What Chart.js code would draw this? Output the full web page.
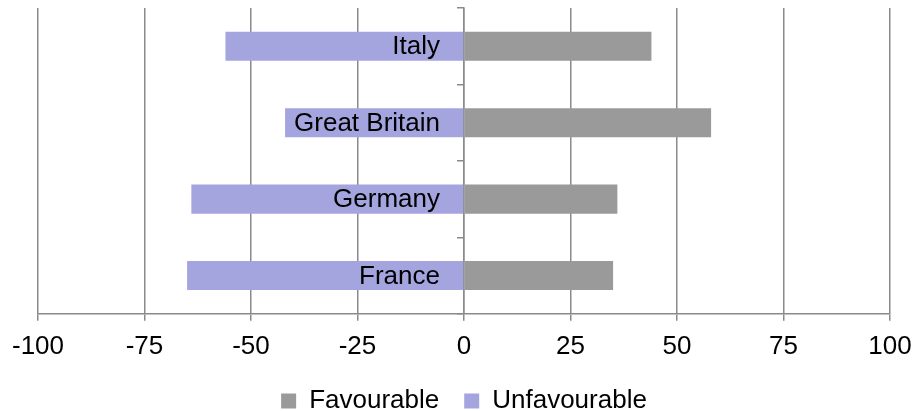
<!DOCTYPE html>
<html>
<head>
<meta charset="utf-8">
<script src="https://cdn.jsdelivr.net/npm/chart.js@4.4.1/dist/chart.umd.min.js"></script>
<style>
  html, body { margin: 0; padding: 0; background: #fff; }
  #wrap { width: 917px; height: 411px; }
</style>
</head>
<body>
<div id="wrap"><canvas id="chart-opinion"></canvas></div>
<script>
const countries = ['Italy', 'Great Britain', 'Germany', 'France'];
const favourable = [44, 58, 36, 35];
const unfavourable = [-56, -42, -64, -65];
const xTicks = [-100, -75, -50, -25, 0, 25, 50, 75, 100];

const gridGrey = '#8a8a8a';
const fontFamily = "'Liberation Sans', Arial, sans-serif";

// category names sit just left of the zero line, on top of the bars
const countryLabels = {
    id: 'countryLabels',
    afterDatasetsDraw(chart) {
        const {ctx, scales: {x, y}} = chart;
        const x0 = x.getPixelForValue(0);
        ctx.save();
        ctx.font = '26px ' + fontFamily;
        ctx.fillStyle = '#000';
        ctx.textAlign = 'right';
        ctx.textBaseline = 'middle';
        countries.forEach((name, i) => {
            ctx.fillText(name, x0 - 24, y.getPixelForValue(i) + 1);
        });
        ctx.restore();
    }
};

// legend keeps wide item spacing but takes less height
const legendHeight = {
    id: 'legendHeight',
    beforeLayout(chart) {
        const legend = chart.legend;
        if (!legend || legend._patched) return;
        const fit = legend.fit;
        legend.fit = function() {
            fit.call(this);
            this.height -= 13;
        };
        legend._patched = true;
    }
};

const ctx = document.getElementById('chart-opinion').getContext('2d');
const chartOpinion = new Chart(ctx, {
    type: 'bar',
    data: {
        labels: countries,
        datasets: [
            {
                label: 'Favourable',
                data: favourable,
                backgroundColor: '#9a9a9a',
                barPercentage: 0.38,
                categoryPercentage: 1
            },
            {
                label: 'Unfavourable',
                data: unfavourable,
                backgroundColor: '#a4a4df',
                barPercentage: 0.38,
                categoryPercentage: 1
            }
        ]
    },
    options: {
        indexAxis: 'y',
        responsive: true,
        maintainAspectRatio: false,
        animation: false,
        layout: {
            padding: {top: 8, left: 38, right: 27, bottom: 0}
        },
        scales: {
            x: {
                stacked: true,
                min: -100,
                max: 100,
                afterBuildTicks(scale) {
                    scale.ticks = xTicks.map(v => ({value: v}));
                },
                afterFit(scale) {
                    scale.height -= 9;
                    scale.paddingLeft = 0;
                    scale.paddingRight = 0;
                },
                grid: {
                    color: gridGrey,
                    lineWidth: 1.5,
                    tickLength: 7
                },
                border: {color: gridGrey, width: 1.5},
                ticks: {
                    color: '#000',
                    padding: 10,
                    font: {family: fontFamily, size: 26}
                }
            },
            y: {
                stacked: true,
                position: {x: 0},
                grid: {
                    drawOnChartArea: false,
                    color: gridGrey,
                    lineWidth: 1.5,
                    tickLength: 6
                },
                border: {color: gridGrey, width: 1.5},
                ticks: {display: false}
            }
        },
        plugins: {
            legend: {
                position: 'bottom',
                labels: {
                    color: '#000',
                    boxWidth: 15,
                    boxHeight: 15,
                    padding: 25,
                    font: {family: fontFamily, size: 26}
                }
            },
            tooltip: {enabled: false}
        }
    },
    plugins: [countryLabels, legendHeight]
});
</script>
</body>
</html>
